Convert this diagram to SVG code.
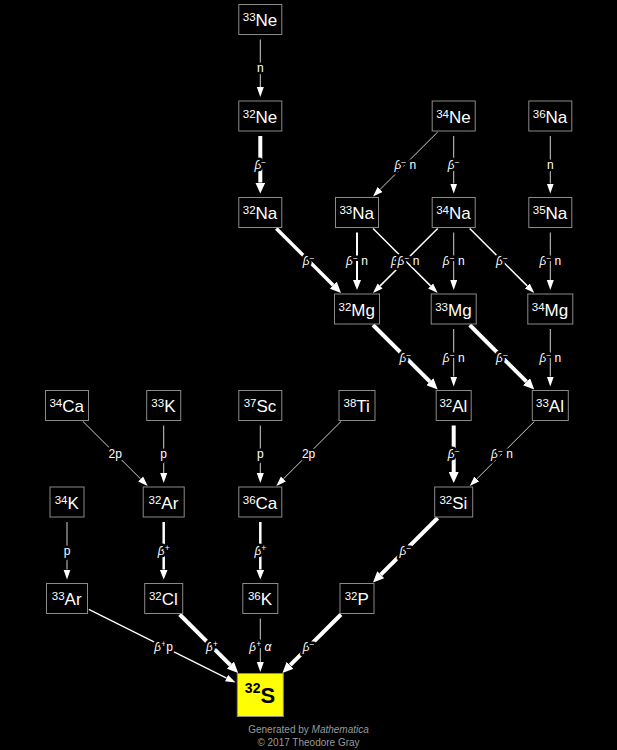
<svg xmlns="http://www.w3.org/2000/svg" width="617" height="750" viewBox="0 0 617 750">
<style>
.b{fill:#000;stroke:#8a8a8a;stroke-width:1}
.t{font-family:"Liberation Sans",Arial,sans-serif;font-size:17px;fill:#fff;text-anchor:middle}
.s{font-size:11.5px}
.l{font-family:"Liberation Sans",Arial,sans-serif;font-size:12px;fill:#fff;text-anchor:middle;stroke:#000;stroke-width:5;paint-order:stroke;stroke-linejoin:round}
.g{font-style:italic}
.u{font-size:8.5px}
.e{fill:none;stroke:#cfcfcf;stroke-width:1}
.m{fill:none;stroke:#fff}
.k{fill:none;stroke:#fff;stroke-width:4}
.f{font-family:"Liberation Sans",Arial,sans-serif;font-size:10px;fill:#9a9a9a;text-anchor:middle}
</style>
<defs>
<marker id="a1" markerUnits="userSpaceOnUse" markerWidth="10" markerHeight="8" viewBox="0 -4 10 8" refX="0" refY="0" orient="auto"><path d="M0,-3.5 L10,0 L0,3.5 z" fill="#fff"/></marker>
<marker id="a2" markerUnits="userSpaceOnUse" markerWidth="10" markerHeight="9" viewBox="0 -4.5 10 9" refX="0" refY="0" orient="auto"><path d="M0,-4 L10,0 L0,4 z" fill="#fff"/></marker>
<marker id="a3" markerUnits="userSpaceOnUse" markerWidth="11" markerHeight="10" viewBox="0 -5 11 10" refX="0" refY="0" orient="auto"><path d="M0,-5 L11,0 L0,5 z" fill="#fff"/></marker>
</defs>
<rect x="0" y="0" width="617" height="750" fill="#000"/>
<g id="connectors">
<line class="e" x1="260.3" y1="39.5" x2="260.3" y2="87" marker-end="url(#a1)"/>
<line class="k" x1="260.3" y1="136" x2="260.3" y2="182.5" marker-end="url(#a3)"/>
<line class="e" x1="437.7" y1="132" x2="380.1" y2="189.4" marker-end="url(#a1)"/>
<line class="e" x1="453.7" y1="136" x2="453.7" y2="183.5" marker-end="url(#a1)"/>
<line class="e" x1="550.3" y1="136" x2="550.3" y2="183.5" marker-end="url(#a1)"/>
<line class="k" style="stroke-width:3.5" x1="276.3" y1="228.5" x2="333.2" y2="285.2" marker-end="url(#a3)"/>
<line class="m" style="stroke-width:2" x1="357" y1="232.5" x2="357" y2="280" marker-end="url(#a2)"/>
<line class="m" style="stroke-width:1.5" x1="373" y1="228.5" x2="430.6" y2="285.9" marker-end="url(#a1)"/>
<line class="m" style="stroke-width:1.5" x1="437.7" y1="228.5" x2="380.1" y2="285.9" marker-end="url(#a1)"/>
<line class="e" x1="453.7" y1="232.5" x2="453.7" y2="280" marker-end="url(#a1)"/>
<line class="m" style="stroke-width:1.5" x1="469.7" y1="228.5" x2="527.2" y2="285.9" marker-end="url(#a1)"/>
<line class="e" x1="550.3" y1="232.5" x2="550.3" y2="280" marker-end="url(#a1)"/>
<line class="k" x1="373" y1="325" x2="429.9" y2="381.7" marker-end="url(#a3)"/>
<line class="e" x1="453.7" y1="329" x2="453.7" y2="376.5" marker-end="url(#a1)"/>
<line class="k" x1="469.7" y1="325" x2="526.5" y2="381.7" marker-end="url(#a3)"/>
<line class="e" x1="550.3" y1="329" x2="550.3" y2="376.5" marker-end="url(#a1)"/>
<line class="k" x1="453.7" y1="425.5" x2="453.7" y2="472" marker-end="url(#a3)"/>
<line class="e" x1="534.3" y1="421.5" x2="476.8" y2="478.9" marker-end="url(#a1)"/>
<line class="k" x1="437.7" y1="518" x2="380.8" y2="574.7" marker-end="url(#a3)"/>
<line class="k" x1="341" y1="614.5" x2="290.2" y2="665.2" marker-end="url(#a3)"/>
<line class="e" x1="83" y1="421.5" x2="140.6" y2="478.9" marker-end="url(#a1)"/>
<line class="e" x1="163.7" y1="425.5" x2="163.7" y2="473" marker-end="url(#a1)"/>
<line class="e" x1="260.3" y1="425.5" x2="260.3" y2="473" marker-end="url(#a1)"/>
<line class="e" x1="341" y1="421.5" x2="283.4" y2="478.9" marker-end="url(#a1)"/>
<line class="e" x1="67" y1="522" x2="67" y2="569.5" marker-end="url(#a1)"/>
<line class="m" style="stroke-width:2.5" x1="163.7" y1="522" x2="163.7" y2="569.5" marker-end="url(#a2)"/>
<line class="m" style="stroke-width:2.5" x1="260.3" y1="522" x2="260.3" y2="569.5" marker-end="url(#a2)"/>
<line class="m" style="stroke-width:1.2" x1="88.8" y1="609.4" x2="226.6" y2="678.1" marker-end="url(#a1)"/>
<line class="k" x1="179.7" y1="614.5" x2="230.4" y2="665.2" marker-end="url(#a3)"/>
<line class="e" x1="260.3" y1="618.5" x2="260.3" y2="662" marker-end="url(#a1)"/>
<text class="l" x="260.3" y="72.3">n</text>
<text class="l" x="260.3" y="168.8"><tspan class="g">β</tspan><tspan class="u" dy="-4">−</tspan></text>
<text class="l" x="405.3" y="168.8"><tspan class="g">β</tspan><tspan class="u" dy="-4">−</tspan><tspan dy="4"> n</tspan></text>
<text class="l" x="453.7" y="168.8"><tspan class="g">β</tspan><tspan class="u" dy="-4">−</tspan></text>
<text class="l" x="550.3" y="168.8">n</text>
<text class="l" x="308.6" y="265.3"><tspan class="g">β</tspan><tspan class="u" dy="-4">−</tspan></text>
<text class="l" x="357" y="265.3"><tspan class="g">β</tspan><tspan class="u" dy="-4">−</tspan><tspan dy="4"> n</tspan></text>
<text class="l" x="397" y="265.3"><tspan class="g">β</tspan><tspan class="u" dy="-4">−</tspan></text>
<text class="l" x="408.5" y="265.3"><tspan class="g">β</tspan><tspan class="u" dy="-4">−</tspan><tspan dy="4"> n</tspan></text>
<text class="l" x="453.7" y="265.3"><tspan class="g">β</tspan><tspan class="u" dy="-4">−</tspan><tspan dy="4"> n</tspan></text>
<text class="l" x="502" y="265.3"><tspan class="g">β</tspan><tspan class="u" dy="-4">−</tspan></text>
<text class="l" x="550.3" y="265.3"><tspan class="g">β</tspan><tspan class="u" dy="-4">−</tspan><tspan dy="4"> n</tspan></text>
<text class="l" x="405.3" y="361.8"><tspan class="g">β</tspan><tspan class="u" dy="-4">−</tspan></text>
<text class="l" x="453.7" y="361.8"><tspan class="g">β</tspan><tspan class="u" dy="-4">−</tspan><tspan dy="4"> n</tspan></text>
<text class="l" x="502" y="361.8"><tspan class="g">β</tspan><tspan class="u" dy="-4">−</tspan></text>
<text class="l" x="550.3" y="361.8"><tspan class="g">β</tspan><tspan class="u" dy="-4">−</tspan><tspan dy="4"> n</tspan></text>
<text class="l" x="453.7" y="458.3"><tspan class="g">β</tspan><tspan class="u" dy="-4">−</tspan></text>
<text class="l" x="502" y="458.3"><tspan class="g">β</tspan><tspan class="u" dy="-4">−</tspan><tspan dy="4"> n</tspan></text>
<text class="l" x="115.3" y="458.3">2p</text>
<text class="l" x="163.7" y="458.3">p</text>
<text class="l" x="260.3" y="458.3">p</text>
<text class="l" x="308.6" y="458.3">2p</text>
<text class="l" x="67" y="554.8">p</text>
<text class="l" x="163.7" y="554.8"><tspan class="g">β</tspan><tspan class="u" dy="-4">+</tspan></text>
<text class="l" x="260.3" y="554.8"><tspan class="g">β</tspan><tspan class="u" dy="-4">+</tspan></text>
<text class="l" x="405.3" y="554.8"><tspan class="g">β</tspan><tspan class="u" dy="-4">−</tspan></text>
<text class="l" x="163.6" y="651.3"><tspan class="g">β</tspan><tspan class="u" dy="-4">+</tspan><tspan dy="4">p</tspan></text>
<text class="l" x="212" y="651.3"><tspan class="g">β</tspan><tspan class="u" dy="-4">+</tspan></text>
<text class="l" x="260.3" y="651.3"><tspan class="g">β</tspan><tspan class="u" dy="-4">+</tspan><tspan dy="4"> </tspan><tspan class="g">α</tspan></text>
<text class="l" x="308.6" y="651.3"><tspan class="g">β</tspan><tspan class="u" dy="-4">−</tspan></text>
</g>
<g id="n-33Ne"><rect class="b" x="238.8" y="4.5" width="43" height="30"/><text class="t" x="260" y="26"><tspan class="s" dy="-5">33</tspan><tspan dy="5">Ne</tspan></text></g>
<g id="n-32Ne"><rect class="b" x="238.8" y="101" width="43" height="30"/><text class="t" x="260" y="122.5"><tspan class="s" dy="-5">32</tspan><tspan dy="5">Ne</tspan></text></g>
<g id="n-34Ne"><rect class="b" x="432.2" y="101" width="43" height="30"/><text class="t" x="453.4" y="122.5"><tspan class="s" dy="-5">34</tspan><tspan dy="5">Ne</tspan></text></g>
<g id="n-36Na"><rect class="b" x="528.8" y="101" width="43" height="30"/><text class="t" x="550" y="122.5"><tspan class="s" dy="-5">36</tspan><tspan dy="5">Na</tspan></text></g>
<g id="n-32Na"><rect class="b" x="238.8" y="197.5" width="43" height="30"/><text class="t" x="260" y="219"><tspan class="s" dy="-5">32</tspan><tspan dy="5">Na</tspan></text></g>
<g id="n-33Na"><rect class="b" x="335.5" y="197.5" width="43" height="30"/><text class="t" x="356.7" y="219"><tspan class="s" dy="-5">33</tspan><tspan dy="5">Na</tspan></text></g>
<g id="n-34Na"><rect class="b" x="432.2" y="197.5" width="43" height="30"/><text class="t" x="453.4" y="219"><tspan class="s" dy="-5">34</tspan><tspan dy="5">Na</tspan></text></g>
<g id="n-35Na"><rect class="b" x="528.8" y="197.5" width="43" height="30"/><text class="t" x="550" y="219"><tspan class="s" dy="-5">35</tspan><tspan dy="5">Na</tspan></text></g>
<g id="n-32Mg"><rect class="b" x="334.5" y="294" width="45" height="30"/><text class="t" x="356.7" y="315.5"><tspan class="s" dy="-5">32</tspan><tspan dy="5">Mg</tspan></text></g>
<g id="n-33Mg"><rect class="b" x="431.2" y="294" width="45" height="30"/><text class="t" x="453.4" y="315.5"><tspan class="s" dy="-5">33</tspan><tspan dy="5">Mg</tspan></text></g>
<g id="n-34Mg"><rect class="b" x="527.8" y="294" width="45" height="30"/><text class="t" x="550" y="315.5"><tspan class="s" dy="-5">34</tspan><tspan dy="5">Mg</tspan></text></g>
<g id="n-34Ca"><rect class="b" x="45.5" y="390.5" width="43" height="30"/><text class="t" x="66.7" y="412"><tspan class="s" dy="-5">34</tspan><tspan dy="5">Ca</tspan></text></g>
<g id="n-33K"><rect class="b" x="146.7" y="390.5" width="34" height="30"/><text class="t" x="163.4" y="412"><tspan class="s" dy="-5">33</tspan><tspan dy="5">K</tspan></text></g>
<g id="n-37Sc"><rect class="b" x="238.8" y="390.5" width="43" height="30"/><text class="t" x="260" y="412"><tspan class="s" dy="-5">37</tspan><tspan dy="5">Sc</tspan></text></g>
<g id="n-38Ti"><rect class="b" x="339" y="390.5" width="36" height="30"/><text class="t" x="356.7" y="412"><tspan class="s" dy="-5">38</tspan><tspan dy="5">Ti</tspan></text></g>
<g id="n-32Al"><rect class="b" x="436.2" y="390.5" width="35" height="30"/><text class="t" x="453.4" y="412"><tspan class="s" dy="-5">32</tspan><tspan dy="5">Al</tspan></text></g>
<g id="n-33Al"><rect class="b" x="532.3" y="390.5" width="36" height="30"/><text class="t" x="550" y="412"><tspan class="s" dy="-5">33</tspan><tspan dy="5">Al</tspan></text></g>
<g id="n-34K"><rect class="b" x="50" y="487" width="34" height="30"/><text class="t" x="66.7" y="508.5"><tspan class="s" dy="-5">34</tspan><tspan dy="5">K</tspan></text></g>
<g id="n-32Ar"><rect class="b" x="143.2" y="487" width="41" height="30"/><text class="t" x="163.4" y="508.5"><tspan class="s" dy="-5">32</tspan><tspan dy="5">Ar</tspan></text></g>
<g id="n-36Ca"><rect class="b" x="238.8" y="487" width="43" height="30"/><text class="t" x="260" y="508.5"><tspan class="s" dy="-5">36</tspan><tspan dy="5">Ca</tspan></text></g>
<g id="n-32Si"><rect class="b" x="434.7" y="487" width="38" height="30"/><text class="t" x="453.4" y="508.5"><tspan class="s" dy="-5">32</tspan><tspan dy="5">Si</tspan></text></g>
<g id="n-33Ar"><rect class="b" x="46.5" y="583.5" width="41" height="30"/><text class="t" x="66.7" y="605"><tspan class="s" dy="-5">33</tspan><tspan dy="5">Ar</tspan></text></g>
<g id="n-32Cl"><rect class="b" x="144.7" y="583.5" width="38" height="30"/><text class="t" x="163.4" y="605"><tspan class="s" dy="-5">32</tspan><tspan dy="5">Cl</tspan></text></g>
<g id="n-36K"><rect class="b" x="242.8" y="583.5" width="35" height="30"/><text class="t" x="260" y="605"><tspan class="s" dy="-5">36</tspan><tspan dy="5">K</tspan></text></g>
<g id="n-32P"><rect class="b" x="340" y="583.5" width="34" height="30"/><text class="t" x="356.7" y="605"><tspan class="s" dy="-5">32</tspan><tspan dy="5">P</tspan></text></g>
<g id="n-32S"><rect x="237.3" y="673.5" width="46" height="43" fill="#ffff00" stroke="#8a8a8a" stroke-width="1"/><text class="t" x="260" y="703" style="fill:#000;font-weight:bold;font-size:22px"><tspan dy="-10.5" style="font-size:14px">32</tspan><tspan dy="10.5">S</tspan></text></g>
<g id="footer">
<text class="f" x="308.5" y="733">Generated by <tspan font-style="italic">Mathematica</tspan></text>
<text class="f" x="308.5" y="745.5">© 2017 Theodore Gray</text>
</g>
</svg>
